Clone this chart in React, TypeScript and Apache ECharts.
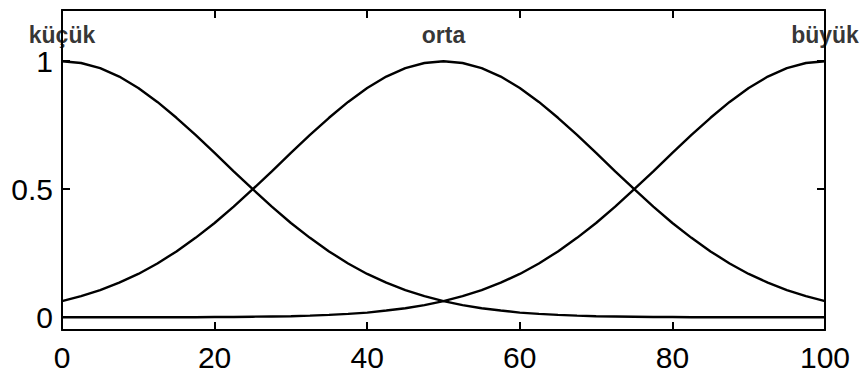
import React, { useEffect, useRef } from "react";
import * as echarts from "echarts";

// Input universe sampled every 2.5 units
const xValues = [
  0, 2.5, 5, 7.5, 10, 12.5, 15, 17.5, 20, 22.5, 25, 27.5, 30, 32.5, 35, 37.5, 40, 42.5, 45, 47.5, 50,
  52.5, 55, 57.5, 60, 62.5, 65, 67.5, 70, 72.5, 75, 77.5, 80, 82.5, 85, 87.5, 90, 92.5, 95, 97.5, 100,
];

// Membership degrees of the three fuzzy sets
const kucuk = [
  1.0, 0.993, 0.973, 0.94, 0.895, 0.841, 0.779, 0.712, 0.642, 0.57, 0.5, 0.432, 0.368, 0.31, 0.257, 0.21, 0.169, 0.135, 0.106, 0.082, 0.0625,
  0.047, 0.035, 0.026, 0.018, 0.013, 0.009, 0.006, 0.004, 0.003, 0.002, 0.001, 0.001, 0, 0, 0, 0, 0, 0, 0, 0,
];
const orta = [
  0.0625, 0.082, 0.106, 0.135, 0.169, 0.21, 0.257, 0.31, 0.368, 0.432, 0.5, 0.57, 0.642, 0.712, 0.779, 0.841, 0.895, 0.94, 0.973, 0.993, 1.0,
  0.993, 0.973, 0.94, 0.895, 0.841, 0.779, 0.712, 0.642, 0.57, 0.5, 0.432, 0.368, 0.31, 0.257, 0.21, 0.169, 0.135, 0.106, 0.082, 0.0625,
];
const buyuk = [
  0, 0, 0, 0, 0, 0, 0, 0, 0.001, 0.001, 0.002, 0.003, 0.004, 0.006, 0.009, 0.013, 0.018, 0.026, 0.035, 0.047, 0.0625,
  0.082, 0.106, 0.135, 0.169, 0.21, 0.257, 0.31, 0.368, 0.432, 0.5, 0.57, 0.642, 0.712, 0.779, 0.841, 0.895, 0.94, 0.973, 0.993, 1.0,
];

// Set names and the centre each name is written above
const setNames = ["küçük", "orta", "büyük"];
const setCentres = [0, 50, 100];

const xTicks = [0, 20, 40, 60, 80, 100];
const yTicks = [0, 0.5, 1];

const FONT = "'Liberation Sans', Arial, sans-serif";

export default function App() {
  const ref = useRef<HTMLDivElement>(null);

  useEffect(() => {
    if (!ref.current) return;
    const chart = echarts.init(ref.current, null, { renderer: "svg" });

    const lineSeries = (data: number[]) => ({
      type: "line",
      data: xValues.map((x, i) => [x, data[i]]),
      showSymbol: false,
      smooth: false,
      lineStyle: { color: "#000", width: 2.4 },
      z: 3,
    });

    const axisLine = { show: true, onZero: false, lineStyle: { color: "#000", width: 2 } };
    const tick = { show: true, inside: true, length: 8, lineStyle: { color: "#000", width: 2 } };

    chart.setOption({
      animation: false,
      backgroundColor: "#fff",
      grid: { left: 62, top: 10, right: 40, bottom: 46, containLabel: false },
      xAxis: [
        {
          type: "value",
          min: 0,
          max: 100,
          interval: 20,
          axisLine,
          axisTick: { ...tick, customValues: xTicks },
          axisLabel: {
            customValues: xTicks,
            color: "#000",
            fontFamily: FONT,
            fontSize: 30,
            margin: 12,
          },
          splitLine: { show: false },
        },
        {
          type: "value",
          position: "top",
          min: 0,
          max: 100,
          interval: 20,
          axisLine,
          axisTick: { ...tick, customValues: xTicks },
          axisLabel: { show: false },
          splitLine: { show: false },
        },
      ],
      yAxis: [
        {
          type: "value",
          min: -0.05,
          max: 1.2,
          axisLine,
          axisTick: { ...tick, customValues: yTicks },
          axisLabel: {
            customValues: yTicks,
            color: "#000",
            fontFamily: FONT,
            fontSize: 30,
            margin: 9,
            formatter: (v: number) => String(v),
          },
          splitLine: { show: false },
        },
        {
          type: "value",
          position: "right",
          min: -0.05,
          max: 1.2,
          axisLine,
          axisTick: { ...tick, customValues: yTicks },
          axisLabel: { show: false },
          splitLine: { show: false },
        },
      ],
      series: [
        lineSeries(kucuk),
        lineSeries(orta),
        lineSeries(buyuk),
        {
          type: "scatter",
          symbolSize: 0,
          data: setCentres.map((c, i) => ({ value: [c, 1], name: setNames[i] })),
          label: {
            show: true,
            position: "top",
            distance: 15,
            formatter: (p: any) => p.name,
            color: "#000",
            fontFamily: FONT,
            fontSize: 23,
            fontWeight: "bold",
          },
          z: 5,
        },
      ],
    });

    return () => chart.dispose();
  }, []);

  return (
    <div
      ref={ref}
      style={{ position: "fixed", left: 0, top: 0, width: 865, height: 376, background: "#fff" }}
    />
  );
}
